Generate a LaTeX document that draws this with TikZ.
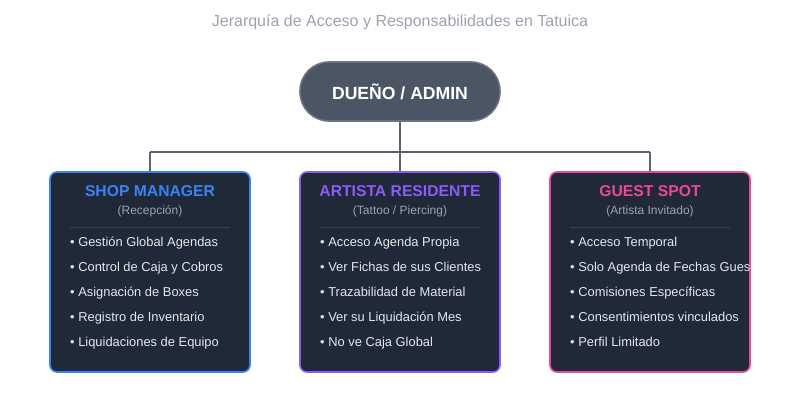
\documentclass[tikz,border=0pt]{standalone}
\usepackage{fontspec}
\setmainfont{Liberation Sans}
\definecolor{pagebg}{HTML}{FFFFFF}
\definecolor{rootfill}{HTML}{4B5563}
\definecolor{rootedge}{HTML}{6B7280}
\definecolor{wire}{HTML}{5B6370}
\definecolor{boxfill}{HTML}{1F2937}
\definecolor{sepcol}{HTML}{374151}
\definecolor{subgray}{HTML}{9CA3AF}
\definecolor{itemcol}{HTML}{E5E7EB}
\definecolor{cblue}{HTML}{3B82F6}
\definecolor{cpurple}{HTML}{8B5CF6}
\definecolor{cpink}{HTML}{EC4899}
\tikzset{
  rolebox/.style={draw=#1, line width=1.6pt, fill=boxfill, rounded corners=7pt},
  roletitle/.style={text=#1, font=\fontsize{15.7}{18}\selectfont\bfseries, inner sep=0pt, anchor=base},
  rolesub/.style={text=subgray, font=\fontsize{12}{14}\selectfont, inner sep=0pt, anchor=base},
  roleitem/.style={text=itemcol, font=\fontsize{12.9}{15}\selectfont, inner sep=0pt, anchor=base west},
  wireline/.style={draw=wire, line width=1.6pt},
}
\begin{document}
\begin{tikzpicture}[x=1pt,y=-1pt]
\useasboundingbox[fill=pagebg] (0,0) rectangle (800,412);
\node[text=subgray, font=\fontsize{16}{19}\selectfont, inner sep=0pt, anchor=base] (sub) at (400,26.5) {Jerarquía de Acceso y Responsabilidades en Tatuica};
% root
\node[draw=rootedge, line width=1.6pt, fill=rootfill, rounded corners=29pt, minimum width=200pt, minimum height=59pt, inner sep=0pt, text=white, font=\fontsize{17.6}{20}\selectfont\bfseries] (root) at (400,91.5) {DUEÑO / ADMIN};
% boxes
\foreach \nm/\cx/\col in {bA/150/cblue, bB/400/cpurple, bC/650/cpink}{
  \node[rolebox=\col, minimum width=200pt, minimum height=200pt, inner sep=0pt] (\nm) at (\cx,272) {};
}
% connectors
\coordinate (jn) at (400,152);
\coordinate (jl) at (150,152);
\coordinate (jr) at (650,152);
\draw[wireline] (root.south) -- (jn);
\draw[wireline] (jl) -- (jr);
\draw[wireline] (jl) -- (bA.north);
\draw[wireline] (jn) -- (bB.north);
\draw[wireline] (jr) -- (bC.north);
% contents
\foreach \nm/\cx/\col/\ttl/\sbt/\ia/\ib/\ic/\id/\ie in {
  bA/150/cblue/SHOP MANAGER/(Recepción)/Gestión Global Agendas/Control de Caja y Cobros/Asignación de Boxes/Registro de Inventario/Liquidaciones de Equipo,
  bB/400/cpurple/ARTISTA RESIDENTE/{(Tattoo / Piercing)}/Acceso Agenda Propia/Ver Fichas de sus Clientes/Trazabilidad de Material/Ver su Liquidación Mes/No ve Caja Global,
  bC/650/cpink/GUEST SPOT/(Artista Invitado)/Acceso Temporal/Solo Agenda de Fechas Guest/Comisiones Específicas/Consentimientos vinculados/Perfil Limitado}{
  \begin{scope}
    \clip[rounded corners=6pt] (\cx-99,173) rectangle (\cx+99,371);
    \node[roletitle=\col] (\nm t) at (\cx,196.5) {\ttl};
    \node[rolesub] (\nm s) at (\cx,214) {\sbt};
    \draw[sepcol, line width=0.8pt] (\cx-80,227) -- (\cx+80,227);
    \node[roleitem] (\nm 1) at (\cx-80,246.5) {• \ia};
    \node[roleitem] (\nm 2) at (\cx-80,271.5) {• \ib};
    \node[roleitem] (\nm 3) at (\cx-80,296.5) {• \ic};
    \node[roleitem] (\nm 4) at (\cx-80,321.5) {• \id};
    \node[roleitem] (\nm 5) at (\cx-80,346.5) {• \ie};
  \end{scope}
}
\end{tikzpicture}
\end{document}
